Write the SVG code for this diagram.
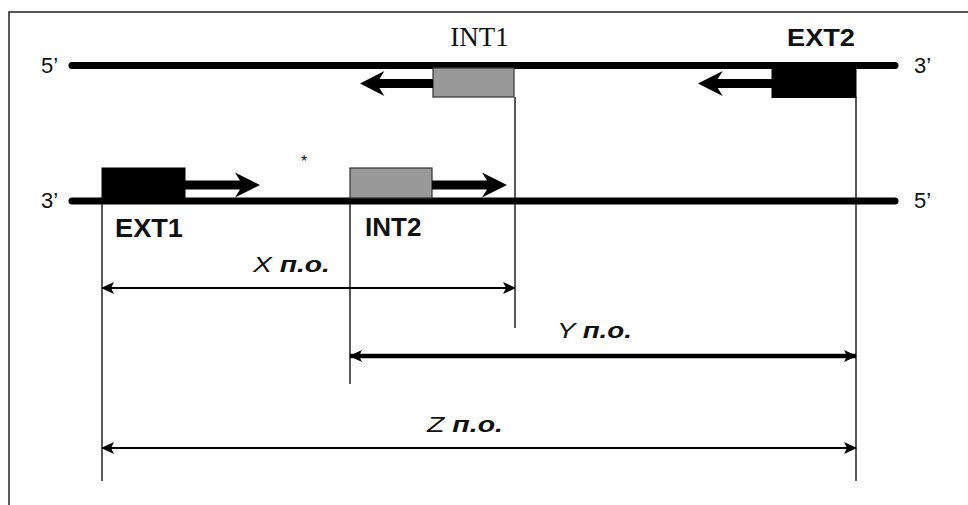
<svg xmlns="http://www.w3.org/2000/svg" xmlns:xlink="http://www.w3.org/1999/xlink" width="968" height="505" viewBox="0 0 968 505">
<style>
.frame{stroke:#222;stroke-width:1.5;fill:none}
.strand{stroke:#000;stroke-width:7;stroke-linecap:round}
.end{font-family:"Liberation Sans",Arial,sans-serif;font-size:22px;fill:#111}
.lbl{font-family:"Liberation Sans",Arial,sans-serif;font-weight:bold;fill:#111}
.serif{font-family:"Liberation Serif","Times New Roman",serif;font-size:27px;fill:#111}
.grey{fill:#999;stroke:#333;stroke-width:1.2}
.black{fill:#000;stroke:#000;stroke-width:1}
.guide{stroke:#222;stroke-width:1.5;fill:none}
.dim{stroke:#000;fill:none}
.dlbl{font-family:"Liberation Sans",Arial,sans-serif;font-style:italic;font-size:22px;fill:#111}
</style>
<defs>
<path id="primer" d="M0,-4.5 L55,-4.5 L50,-12.5 L75,0 L50,12.5 L55,4.5 L0,4.5 Z" fill="#000"/>
<marker id="ah" markerUnits="userSpaceOnUse" markerWidth="14" markerHeight="12" refX="12" refY="6" orient="auto-start-reverse" viewBox="0 0 14 12">
<path d="M0,0 L13,6 L0,12 L3,6 Z" fill="#000"/>
</marker>
</defs>
<path class="frame" d="M9,505 L9,12 L968,12"/>
<g id="guides">
<line class="guide" x1="102" y1="199" x2="102" y2="481"/>
<line class="guide" x1="350" y1="200" x2="350" y2="384"/>
<line class="guide" x1="515" y1="97" x2="515" y2="328"/>
<line class="guide" x1="856" y1="97" x2="856" y2="481"/>
</g>
<g id="strand-top">
<line class="strand" x1="72" y1="65.5" x2="895" y2="65.5"/>
<text class="end" x="41" y="73">5’</text>
<text class="end" x="914" y="73">3’</text>
</g>
<g id="strand-bottom">
<line class="strand" x1="72" y1="201" x2="895" y2="201"/>
<text class="end" x="41" y="208">3’</text>
<text class="end" x="914" y="208">5’</text>
</g>
<g id="INT1">
<rect class="grey" x="433" y="68" width="81" height="29"/>
<use xlink:href="#primer" transform="translate(433,83.5) scale(-1,1) scale(0.973,1)"/>
<text class="serif" x="479.5" y="46" text-anchor="middle">INT1</text>
</g>
<g id="EXT2">
<rect class="black" x="772" y="68" width="84" height="29.5"/>
<use xlink:href="#primer" transform="translate(772,83.5) scale(-1,1) scale(0.987,1)"/>
<text class="lbl" x="821" y="46" text-anchor="middle" font-size="23" textLength="68" lengthAdjust="spacingAndGlyphs">EXT2</text>
</g>
<g id="EXT1">
<rect class="black" x="102" y="168" width="83" height="31"/>
<use xlink:href="#primer" transform="translate(185,185)"/>
<text class="lbl" x="115" y="237" font-size="26" textLength="68" lengthAdjust="spacingAndGlyphs">EXT1</text>
</g>
<g id="INT2">
<rect class="grey" x="350" y="168" width="82" height="30"/>
<use xlink:href="#primer" transform="translate(432,185)"/>
<text class="lbl" x="365" y="236" font-size="26">INT2</text>
</g>
<text x="304" y="167" font-family="Liberation Sans, Arial, sans-serif" font-size="16" text-anchor="middle" fill="#111">*</text>
<g id="connectors">
<line class="dim" stroke-width="2.2" x1="102" y1="288" x2="515" y2="288" marker-start="url(#ah)" marker-end="url(#ah)"/>
<line class="dim" stroke-width="4.5" x1="350" y1="356" x2="856" y2="356" marker-start="url(#ah)" marker-end="url(#ah)"/>
<line class="dim" stroke-width="2.2" x1="102" y1="448" x2="856" y2="448" marker-start="url(#ah)" marker-end="url(#ah)"/>
</g>
<g id="dim-labels">
<text class="dlbl" x="253" y="272" textLength="77" lengthAdjust="spacingAndGlyphs">X <tspan font-weight="bold">п.о.</tspan></text>
<text class="dlbl" x="557" y="338" textLength="75" lengthAdjust="spacingAndGlyphs">Y <tspan font-weight="bold">п.о.</tspan></text>
<text class="dlbl" x="427" y="432" textLength="76" lengthAdjust="spacingAndGlyphs">Z <tspan font-weight="bold">п.о.</tspan></text>
</g>
</svg>
